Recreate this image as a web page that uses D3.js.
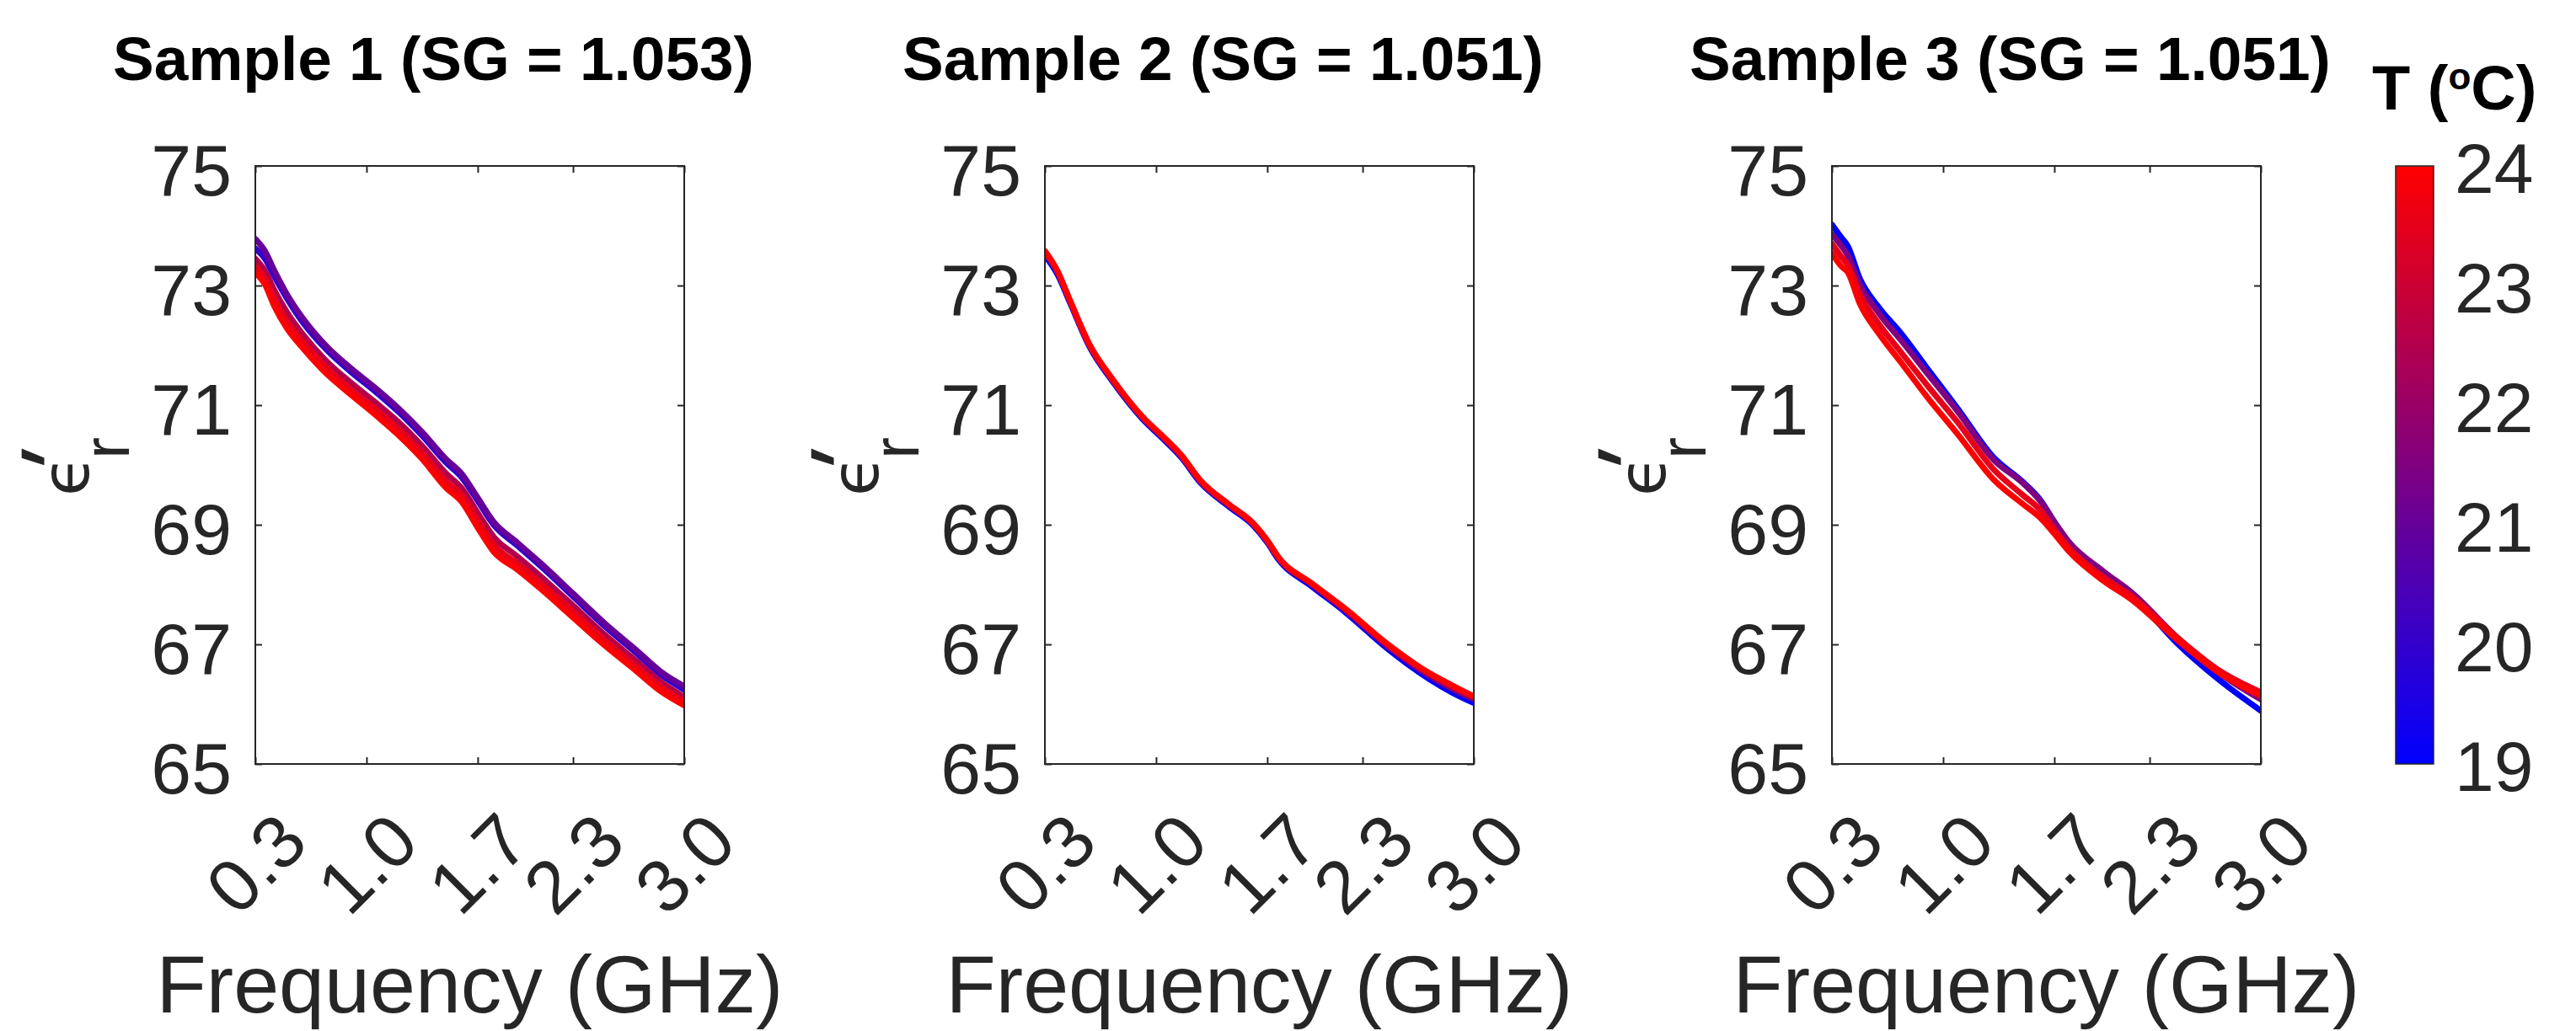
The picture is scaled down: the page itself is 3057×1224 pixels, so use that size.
<!DOCTYPE html>
<html>
<head>
<meta charset="utf-8">
<script src="https://cdnjs.cloudflare.com/ajax/libs/d3/7.8.5/d3.min.js"></script>
<style>
body { margin: 0; background: #fff; }
text { font-family: "Liberation Sans", Arial, Helvetica, sans-serif; }
</style>
</head>
<body>
<div id="chart"></div>
<script>
// ---- data ----
// Sample 1: frequency (GHz) and real permittivity for each temperature
var s1Freq = [0.30, 0.36, 0.42, 0.50, 0.60, 0.75, 0.90, 1.05, 1.20, 1.35, 1.50, 1.60, 1.70, 1.80, 1.95, 2.10, 2.30, 2.50, 2.70, 2.85, 3.00];
var s1T20 = [73.62, 73.45, 73.15, 72.78, 72.38, 71.92, 71.56, 71.24, 70.89, 70.49, 70.04, 69.79, 69.40, 69.00, 68.65, 68.30, 67.80, 67.30, 66.85, 66.50, 66.24];
var s1T21 = [73.78, 73.58, 73.25, 72.85, 72.45, 71.98, 71.62, 71.30, 70.95, 70.55, 70.10, 69.85, 69.45, 69.05, 68.70, 68.35, 67.85, 67.35, 66.90, 66.55, 66.30];
var s1T225 = [73.45, 73.25, 72.92, 72.55, 72.18, 71.73, 71.38, 71.06, 70.72, 70.32, 69.86, 69.61, 69.20, 68.80, 68.47, 68.13, 67.65, 67.16, 66.72, 66.38, 66.12];
var s1T235 = [73.32, 73.12, 72.78, 72.40, 72.06, 71.62, 71.27, 70.95, 70.60, 70.20, 69.73, 69.49, 69.07, 68.67, 68.35, 68.02, 67.55, 67.07, 66.63, 66.30, 66.05];
var s1T24 = [73.22, 73.02, 72.65, 72.28, 71.95, 71.52, 71.18, 70.85, 70.50, 70.10, 69.62, 69.38, 68.95, 68.55, 68.25, 67.92, 67.45, 66.98, 66.55, 66.22, 65.98];

// Sample 2
var s2Freq = [0.30, 0.38, 0.46, 0.58, 0.73, 0.91, 1.05, 1.16, 1.28, 1.46, 1.61, 1.70, 1.77, 1.98, 2.19, 2.46, 2.72, 2.86, 3.00];
var s2T19 = [73.50, 73.18, 72.70, 71.98, 71.38, 70.78, 70.42, 70.12, 69.70, 69.30, 68.99, 68.70, 68.42, 67.97, 67.54, 66.92, 66.42, 66.20, 66.02];
var s2T21 = [73.55, 73.22, 72.72, 72.00, 71.40, 70.80, 70.44, 70.14, 69.72, 69.32, 69.01, 68.72, 68.44, 68.00, 67.57, 66.96, 66.47, 66.26, 66.08];
var s2T225 = [73.57, 73.23, 72.73, 72.01, 71.41, 70.81, 70.45, 70.15, 69.73, 69.33, 69.02, 68.73, 68.45, 68.01, 67.59, 66.98, 66.50, 66.29, 66.11];
var s2T24 = [73.58, 73.24, 72.74, 72.02, 71.42, 70.82, 70.46, 70.16, 69.74, 69.34, 69.03, 68.74, 68.46, 68.02, 67.60, 67.00, 66.52, 66.32, 66.13];

// Sample 3
var s3Freq = [0.30, 0.36, 0.40, 0.475, 0.60, 0.73, 0.91, 1.09, 1.32, 1.50, 1.61, 1.70, 1.79, 2.01, 2.19, 2.48, 2.74, 3.00];
var s3T19 = [74.02, 73.80, 73.66, 73.12, 72.62, 72.22, 71.58, 70.95, 70.12, 69.72, 69.42, 69.05, 68.70, 68.18, 67.82, 67.00, 66.40, 65.89];
var s3T215 = [73.86, 73.66, 73.50, 73.02, 72.52, 72.10, 71.50, 70.90, 70.08, 69.70, 69.40, 69.05, 68.72, 68.22, 67.86, 67.10, 66.52, 66.08];
var s3T235 = [73.70, 73.48, 73.34, 72.86, 72.34, 71.90, 71.30, 70.72, 69.92, 69.50, 69.25, 68.92, 68.62, 68.12, 67.80, 67.10, 66.56, 66.20];
var s3T24 = [73.54, 73.32, 73.22, 72.70, 72.18, 71.73, 71.10, 70.52, 69.75, 69.35, 69.12, 68.85, 68.56, 68.06, 67.74, 67.06, 66.52, 66.14];

var sampleTitles = ["Sample 1 (SG = 1.053)", "Sample 2 (SG = 1.051)", "Sample 3 (SG = 1.051)"];
var xTicks = [0.3, 1.0, 1.7, 2.3, 3.0];
var yTicks = [65, 67, 69, 71, 73, 75];
var cbTicks = [19, 20, 21, 22, 23, 24];

var samples = [
    { title: sampleTitles[0], freq: s1Freq, lines: [{ t: 20, v: s1T20 }, { t: 21, v: s1T21 }, { t: 22.5, v: s1T225 }, { t: 23.5, v: s1T235 }, { t: 24, v: s1T24 }] },
    { title: sampleTitles[1], freq: s2Freq, lines: [{ t: 19, v: s2T19 }, { t: 21, v: s2T21 }, { t: 22.5, v: s2T225 }, { t: 24, v: s2T24 }] },
    { title: sampleTitles[2], freq: s3Freq, lines: [{ t: 19, v: s3T19 }, { t: 21.5, v: s3T215 }, { t: 23.5, v: s3T235 }, { t: 24, v: s3T24 }] }
];

// ---- layout ----
var svgWidth = 3057;
var svgHeight = 1224;
var panelLeft = [303, 1240, 2174];
var plotTop = 197;
var plotWidth = 509;
var plotHeight = 710;
var axisColor = "#262626";

var svg = d3.select("#chart").append("svg")
    .attr("width", svgWidth)
    .attr("height", svgHeight);

var xScale = d3.scaleLinear().domain([0.3, 3.0]).range([0, plotWidth]);
var yScale = d3.scaleLinear().domain([65, 75]).range([plotHeight, 0]);
var tColor = d3.scaleLinear().domain([19, 24]).range(["#0000ff", "#ff0000"]).interpolate(d3.interpolateRgb);

var line = d3.line()
    .x(d => xScale(d[0]))
    .y(d => yScale(d[1]))
    .curve(d3.curveMonotoneX);

svg.append("defs").append("clipPath")
    .attr("id", "plotClip")
    .append("rect")
    .attr("width", plotWidth)
    .attr("height", plotHeight);

samples.forEach(function(s, i) {
    var g = svg.append("g")
        .attr("transform", `translate(${panelLeft[i]}, ${plotTop})`);

    // curves, coolest first so the red ones sit on top
    var lineGroup = g.append("g").attr("clip-path", "url(#plotClip)");
    s.lines.forEach(function(l) {
        lineGroup.append("path")
            .datum(s.freq.map((f, k) => [f, l.v[k]]))
            .attr("d", line)
            .attr("fill", "none")
            .attr("stroke", tColor(l.t))
            .attr("stroke-width", 7)
            .attr("stroke-linejoin", "round")
            .attr("stroke-linecap", "round");
    });

    // axes with inward ticks on all four sides
    var leftAxis = g.append("g")
        .call(d3.axisLeft(yScale).tickValues(yTicks).tickSize(-8).tickPadding(28).tickFormat(d3.format("d")));
    leftAxis.selectAll("text")
        .attr("dy", "0.4em")
        .style("font-size", "86px")
        .attr("fill", axisColor);

    var bottomAxis = g.append("g")
        .attr("transform", `translate(0, ${plotHeight})`)
        .call(d3.axisBottom(xScale).tickValues(xTicks).tickSize(-8).tickFormat(d3.format(".1f")));
    bottomAxis.selectAll("text")
        .attr("y", 0)
        .attr("dy", "0.35em")
        .attr("text-anchor", "middle")
        .attr("transform", "translate(0, 118) rotate(-45)")
        .style("font-size", "88px")
        .attr("fill", axisColor);

    g.append("g").call(d3.axisTop(xScale).tickValues(xTicks).tickSize(-8).tickFormat(""));
    g.append("g")
        .attr("transform", `translate(${plotWidth}, 0)`)
        .call(d3.axisRight(yScale).tickValues(yTicks).tickSize(-8).tickFormat(""));

    g.selectAll(".domain").remove();
    g.selectAll(".tick line").attr("stroke", axisColor).attr("stroke-width", 2);

    g.append("rect")
        .attr("width", plotWidth)
        .attr("height", plotHeight)
        .attr("fill", "none")
        .attr("stroke", axisColor)
        .attr("stroke-width", 2);

    // title
    g.append("text")
        .attr("x", plotWidth / 2 - 43)
        .attr("y", 95 - plotTop)
        .attr("text-anchor", "middle")
        .style("font-size", "73px")
        .style("font-weight", "bold")
        .attr("fill", "#000")
        .text(s.title);

    // x label
    g.append("text")
        .attr("x", plotWidth / 2)
        .attr("y", 1202 - plotTop)
        .attr("text-anchor", "middle")
        .style("font-size", "97px")
        .attr("fill", axisColor)
        .text("Frequency (GHz)");

    // y label: lunate epsilon with subscript r and prime
    var yLabel = g.append("g")
        .attr("transform", `translate(${105 - 303}, ${565 - plotTop}) rotate(-90)`)
        .attr("fill", axisColor);
    yLabel.append("text")
        .attr("x", 0)
        .attr("y", 0)
        .attr("text-anchor", "middle")
        .style("font-family", "'DejaVu Sans', sans-serif")
        .style("font-size", "78px")
        .text("\u03f5");
    yLabel.append("text")
        .attr("x", 20)
        .attr("y", 48)
        .style("font-size", "78px")
        .text("r");
    yLabel.append("text")
        .attr("transform", "translate(-16, 6) skewX(-20)")
        .style("font-size", "124px")
        .text("'");
});

// ---- colour bar ----
var cbX = 2843;
var cbWidth = 45;
var cbScale = d3.scaleLinear().domain([19, 24]).range([plotHeight, 0]);

var grad = svg.select("defs").append("linearGradient")
    .attr("id", "cbGrad")
    .attr("x1", 0).attr("y1", 1)
    .attr("x2", 0).attr("y2", 0);
grad.selectAll("stop")
    .data(d3.range(0, 1.0001, 0.1))
    .enter()
    .append("stop")
    .attr("offset", d => d)
    .attr("stop-color", d => tColor(19 + d * 5));

var cb = svg.append("g").attr("transform", `translate(${cbX}, ${plotTop})`);
cb.append("rect")
    .attr("width", cbWidth)
    .attr("height", plotHeight)
    .attr("fill", "url(#cbGrad)")
    .attr("stroke", axisColor)
    .attr("stroke-width", 1.5);

var cbAxis = cb.append("g")
    .attr("transform", `translate(${cbWidth}, 0)`)
    .call(d3.axisRight(cbScale).tickValues(cbTicks).tickSize(0).tickPadding(25).tickFormat(d3.format("d")));
cbAxis.select(".domain").remove();
cbAxis.selectAll("text")
    .attr("dy", "0.37em")
    .style("font-size", "84px")
    .attr("fill", axisColor);

var cbTitle = svg.append("text")
    .attr("x", 2815)
    .attr("y", 130)
    .style("font-size", "74px")
    .style("font-weight", "bold")
    .attr("fill", "#000");
cbTitle.append("tspan").text("T (");
cbTitle.append("tspan").attr("dy", -24).style("font-size", "44px").text("o");
cbTitle.append("tspan").attr("dy", 24).text("C)");
</script>
</body>
</html>
